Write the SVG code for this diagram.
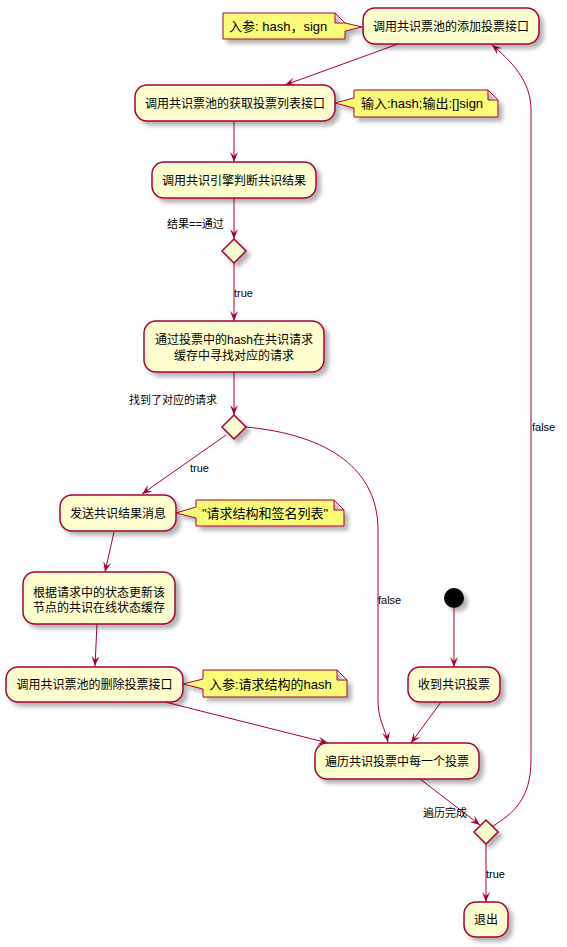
<svg xmlns="http://www.w3.org/2000/svg" width="567" height="947" viewBox="0 0 567 947">
<style>
.node rect{fill:#FEFECE;stroke:#A80036;stroke-width:1.5}
.node polygon{fill:#FEFECE;stroke:#A80036;stroke-width:1.5}
.note path{fill:#FBFB77;stroke:#A80036;stroke-width:1}
.t{font-family:"Liberation Sans","Noto Sans CJK SC",sans-serif;font-size:12px;fill:#000;text-anchor:middle}
.nt{font-family:"Liberation Sans","Noto Sans CJK SC",sans-serif;font-size:13px;fill:#000}
.lb{font-family:"Liberation Sans","Noto Sans CJK SC",sans-serif;font-size:11px;fill:#000}
.edges path{fill:none;stroke:#A80036;stroke-width:1}
</style>
<defs>
<filter id="sh" x="-20%" y="-20%" width="150%" height="160%">
<feGaussianBlur in="SourceAlpha" stdDeviation="2"/>
<feOffset dx="4" dy="4" result="b"/>
<feFlood flood-color="#000" flood-opacity="0.3"/>
<feComposite in2="b" operator="in"/>
<feMerge><feMergeNode/><feMergeNode in="SourceGraphic"/></feMerge>
</filter>
<marker id="ah" markerWidth="10" markerHeight="10" refX="10" refY="4" orient="auto" markerUnits="userSpaceOnUse">
<path d="M0,0 L10,4 L0,8 L4,4 Z" fill="#A80036"/>
</marker>
</defs>

<g class="edges">
<path d="M398,44 L285,85" marker-end="url(#ah)"/>
<path d="M234,122 L234,162" marker-end="url(#ah)"/>
<path d="M234,198 L234,239" marker-end="url(#ah)"/>
<path d="M234,263 L234,321" marker-end="url(#ah)"/>
<path d="M234,372 L234,415" marker-end="url(#ah)"/>
<path d="M226,435 L142,494" marker-end="url(#ah)"/>
<path d="M246,427 C330,435 378,470 378,530 L378,700 C378,720 385,728 388,742" marker-end="url(#ah)"/>
<path d="M114,532 L105,572" marker-end="url(#ah)"/>
<path d="M97,624 L95,666" marker-end="url(#ah)"/>
<path d="M165,702 L328,743" marker-end="url(#ah)"/>
<path d="M454,608 L454,667" marker-end="url(#ah)"/>
<path d="M441,702 L411,743" marker-end="url(#ah)"/>
<path d="M420,779 L480,825" marker-end="url(#ah)"/>
<path d="M486,844 L486,902" marker-end="url(#ah)"/>
<path d="M493,826 C512,814 531,800 531,760 L531,110 C531,80 510,60 492,45" marker-end="url(#ah)"/>
<text class="lb" x="167" y="228">结果==通过</text>
<text class="lb" x="234" y="297">true</text>
<text class="lb" x="129" y="404">找到了对应的请求</text>
<text class="lb" x="190" y="472">true</text>
<text class="lb" x="378" y="604">false</text>
<text class="lb" x="423" y="817">遍历完成</text>
<text class="lb" x="486" y="878">true</text>
<text class="lb" x="532" y="431">false</text>
</g>

<g id="n1" class="node"><rect x="363" y="8" width="176" height="36" rx="12" filter="url(#sh)"/><text class="t" x="451" y="31">调用共识票池的添加投票接口</text></g>
<g id="note1" class="note"><path d="M223,13 L335,13 L345,23 L362,27 L345,31 L345,39 L223,39 Z M335,13 L335,23 L345,23" filter="url(#sh)"/><text class="nt" x="229" y="31">入参: hash，sign</text></g>
<g id="n2" class="node"><rect x="135" y="85" width="200" height="36" rx="12" filter="url(#sh)"/><text class="t" x="235" y="108">调用共识票池的获取投票列表接口</text></g>
<g id="note2" class="note"><path d="M354,90 L488,90 L498,100 L498,117 L354,117 L354,108 L335,103 L354,98 Z M488,90 L488,100 L498,100" filter="url(#sh)"/><text class="nt" x="361" y="108">输入:hash;输出:[]sign</text></g>
<g id="n3" class="node"><rect x="152" y="162" width="164" height="36" rx="12" filter="url(#sh)"/><text class="t" x="234" y="185">调用共识引擎判断共识结果</text></g>
<g id="d1" class="node"><polygon points="234,239 246,251 234,263 222,251" filter="url(#sh)"/></g>
<g id="n4" class="node"><rect x="144" y="321" width="180" height="51" rx="12" filter="url(#sh)"/><text class="t" x="234" y="344">通过投票中的hash在共识请求</text><text class="t" x="234" y="360">缓存中寻找对应的请求</text></g>
<g id="d2" class="node"><polygon points="234,415 246,427 234,439 222,427" filter="url(#sh)"/></g>
<g id="n5" class="node"><rect x="60" y="495" width="116" height="36" rx="12" filter="url(#sh)"/><text class="t" x="118" y="518">发送共识结果消息</text></g>
<g id="note3" class="note"><path d="M196,500 L334,500 L344,510 L344,526 L196,526 L196,518 L176,513 L196,507 Z M334,500 L334,510 L344,510" filter="url(#sh)"/><text class="nt" x="202" y="518">"请求结构和签名列表"</text></g>
<g id="n6" class="node"><rect x="23" y="572" width="152" height="52" rx="12" filter="url(#sh)"/><text class="t" x="99" y="597">根据请求中的状态更新该</text><text class="t" x="99" y="612">节点的共识在线状态缓存</text></g>
<g id="n7" class="node"><rect x="6" y="667" width="177" height="35" rx="12" filter="url(#sh)"/><text class="t" x="94.5" y="689">调用共识票池的删除投票接口</text></g>
<g id="note4" class="note"><path d="M203,670 L337,670 L347,680 L347,697 L203,697 L203,689 L183,684 L203,679 Z M337,670 L337,680 L347,680" filter="url(#sh)"/><text class="nt" x="209" y="689">入参:请求结构的hash</text></g>
<g id="start"><circle cx="454" cy="598" r="10" fill="#000" filter="url(#sh)"/></g>
<g id="n8" class="node"><rect x="408" y="667" width="92" height="35" rx="12" filter="url(#sh)"/><text class="t" x="454" y="689">收到共识投票</text></g>
<g id="n9" class="node"><rect x="315" y="743" width="164" height="36" rx="12" filter="url(#sh)"/><text class="t" x="397" y="766">遍历共识投票中每一个投票</text></g>
<g id="d3" class="node"><polygon points="486,820 498,832 486,844 474,832" filter="url(#sh)"/></g>
<g id="n10" class="node"><rect x="464" y="902" width="44" height="35" rx="12" filter="url(#sh)"/><text class="t" x="486" y="924">退出</text></g>
</svg>
